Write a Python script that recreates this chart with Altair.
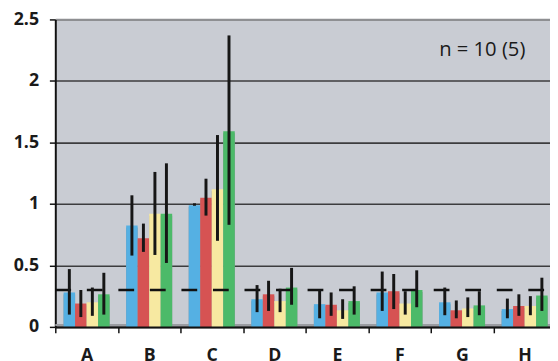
import altair as alt
import pandas as pd

categories = ["A", "B", "C", "D", "E", "F", "G", "H"]
series = ["1", "2", "3", "4"]
colors = ["#55b0e3", "#d65353", "#f7e9a1", "#4cba69"]

s1_mean = [0.28, 0.825, 0.99, 0.225, 0.185, 0.28, 0.20, 0.145]
s2_mean = [0.19, 0.72, 1.05, 0.265, 0.18, 0.29, 0.135, 0.17]
s3_mean = [0.20, 0.92, 1.12, 0.21, 0.135, 0.19, 0.15, 0.17]
s4_mean = [0.265, 0.92, 1.59, 0.32, 0.21, 0.30, 0.175, 0.255]

s1_lo = [0.10, 0.58, 0.985, 0.12, 0.07, 0.13, 0.095, 0.07]
s1_hi = [0.47, 1.07, 1.005, 0.34, 0.30, 0.45, 0.32, 0.23]
s2_lo = [0.08, 0.61, 0.905, 0.13, 0.09, 0.145, 0.07, 0.09]
s2_hi = [0.30, 0.84, 1.205, 0.375, 0.28, 0.43, 0.215, 0.265]
s3_lo = [0.09, 0.585, 0.70, 0.12, 0.065, 0.10, 0.08, 0.095]
s3_hi = [0.32, 1.26, 1.56, 0.31, 0.225, 0.29, 0.24, 0.25]
s4_lo = [0.10, 0.52, 0.83, 0.18, 0.10, 0.16, 0.095, 0.13]
s4_hi = [0.44, 1.33, 2.37, 0.48, 0.33, 0.46, 0.29, 0.40]

threshold = 0.3
y_ticks = [0, 0.5, 1, 1.5, 2, 2.5]
title_text = "Mediator"
note_text = "n = 10 (5)"

means = [s1_mean, s2_mean, s3_mean, s4_mean]
los = [s1_lo, s2_lo, s3_lo, s4_lo]
his = [s1_hi, s2_hi, s3_hi, s4_hi]

rows = []
for si, s in enumerate(series):
    for ci, c in enumerate(categories):
        rows.append({"cat": c, "series": s, "mean": means[si][ci],
                     "lo": los[si][ci], "hi": his[si][ci]})
df = pd.DataFrame(rows)

W, H = 502, 312
FONT = "Open Sans"

xscale = alt.Scale(domain=categories, range=[0, 508], paddingInner=0, paddingOuter=0)
yscale = alt.Scale(domain=[0, 2.5], nice=False)
xoff = alt.XOffset("series:N", sort=series,
                   scale=alt.Scale(domain=series, paddingInner=0, paddingOuter=0.72))

xaxis = alt.Axis(title=None, labelAngle=0, grid=False, tickBand="extent",
                 labelFont=FONT, labelFontSize=18, labelFontWeight="bold",
                 labelColor="#1a1a1a", labelPadding=14, tickSize=6,
                 tickColor="#111111", tickWidth=1.5, domainColor="#111111",
                 domainWidth=2, zindex=1)
yaxis = alt.Axis(title=None, values=y_ticks, format="~g",
                 labelFont=FONT, labelFontSize=18, labelFontWeight="bold",
                 labelColor="#1a1a1a", labelPadding=11, tickSize=6,
                 tickColor="#111111", tickWidth=1.5, domainColor="#111111",
                 domainWidth=2, grid=True,
                 gridColor={"condition": {"test": "datum.value == 2.5", "value": "#8e8f92"},
                            "value": "#3c3c3e"},
                 gridWidth={"condition": {"test": "datum.value == 2.5", "value": 2.2},
                            "value": 1.6})

base = alt.Chart(df).encode(
    x=alt.X("cat:N", sort=categories, scale=xscale, axis=xaxis),
    xOffset=xoff,
)

floor = alt.Chart(pd.DataFrame({"v": [0]})).mark_rule(
    color="#9a9ca1", strokeWidth=2, yOffset=-2
).encode(
    y=alt.Y("v:Q", scale=yscale, axis=yaxis),
    x=alt.value(0), x2=alt.value(W),
)

shadow = base.mark_bar(color="#8c8e93", xOffset=2, yOffset=2).encode(
    y=alt.Y("mean:Q", scale=yscale, stack=None, title=None),
)

bars = base.mark_bar().encode(
    y=alt.Y("mean:Q", scale=yscale, stack=None, title=None),
    color=alt.Color("series:N", scale=alt.Scale(domain=series, range=colors), legend=None),
)

errs = base.mark_rule(color="#161616", strokeWidth=3).encode(
    y=alt.Y("lo:Q", scale=yscale, title=None),
    y2="hi:Q",
)

dash = alt.Chart(pd.DataFrame({"v": [threshold]})).mark_rule(
    color="#111111", strokeWidth=2.5, strokeDash=[16, 16]
).encode(
    y=alt.Y("v:Q", scale=yscale, title=None),
    x=alt.value(0), x2=alt.value(W),
)

note = alt.Chart(pd.DataFrame({"t": [note_text]})).mark_text(
    align="right", baseline="middle", font=FONT, fontSize=20.5, color="#1a1a1a"
).encode(x=alt.value(477), y=alt.value(31), text="t:N")

title = alt.Chart(pd.DataFrame({"t": [title_text]})).mark_text(
    align="center", baseline="alphabetic", font=FONT, fontSize=26,
    fontWeight="bold", color="#1a1a1a"
).encode(x=alt.value(267), y=alt.value(-13), text="t:N")

chart = alt.layer(floor, shadow, bars, dash, errs, note, title).properties(
    width=W, height=H,
    autosize=alt.AutoSizeParams(type="none"),
    padding={"left": 48, "top": 9, "right": 0, "bottom": 32},
).configure_view(fill="#c9ccd3", stroke=None)

chart.save("out.html", embed_options={"renderer": "svg", "actions": False})
